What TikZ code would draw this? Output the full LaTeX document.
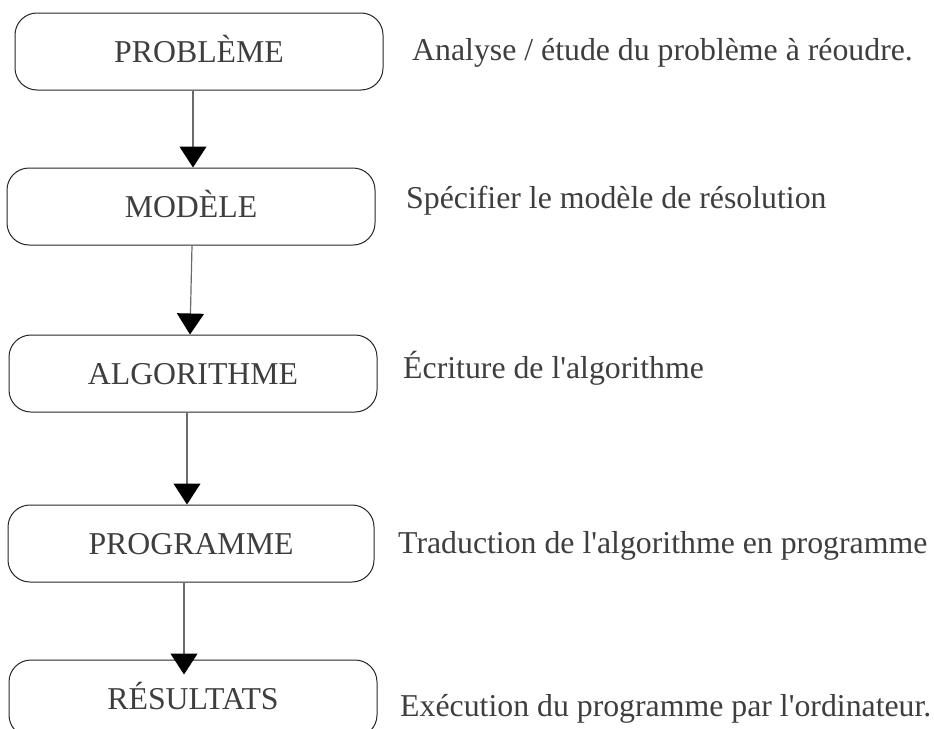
\documentclass[tikz,border=0pt]{standalone}
\usepackage{fontspec}
\setmainfont{Liberation Serif}
\usetikzlibrary{arrows.meta}

\definecolor{textgrey}{HTML}{3E3E3E}
\definecolor{linegrey}{HTML}{6A6A6A}

\begin{document}
\begin{tikzpicture}
    [x=1pt, y=1pt,
    font=\fontsize{31.8}{38}\selectfont,
    stage/.style={
        draw=black!85,
        line width=1pt,
        rounded corners=22pt,
        text=textgrey,
        minimum width=368pt,
        minimum height=77pt,
        text height=21pt,
        text depth=0pt,
        inner sep=0pt
    },
    note/.style={anchor=base west, text=textgrey, inner sep=0pt},
    line/.style={
        draw=linegrey, line width=1.2pt,
        -{Triangle[width=27pt, length=21pt, color=black]}
    }
    ]
    \useasboundingbox (0,0) rectangle (934,-728);

    % Etapes
    \foreach \name/\x/\y/\w/\pos in {PROBL\`EME/199/-51.5/368/1, MOD\`ELE/191/-206.5/368/2,
        ALGORITHME/193/-373.5/368/3, PROGRAMME/191/-543.5/366/4, R\'ESULTATS/193/-698.5/368/5}{
        \node[stage, minimum width=\w pt] (stage\pos) at (\x,\y) {\name};
    }

    % Commentaires
    \node[note] (note1) at (412,-60) {Analyse / étude du problème à réoudre.};
    \node[note] (note2) at (406,-208) {Spécifier le modèle de résolution};
    \node[note] (note3) at (403,-378) {Écriture de l\textquotesingle algorithme};
    \node[note] (note4) at (398,-553) {Traduction de l\textquotesingle algorithme en programme};
    \node[note] (note5) at (400,-716) {Exécution du programme par l\textquotesingle ordinateur.};

    % Fleches entre etapes
    \foreach \a/\b/\sa/\sb/\dy in {1/2/-6/2/0, 2/3/1/-3/0, 3/4/-6/-4/0, 4/5/-7/-9/-15}{
        \path [line] ([xshift=\sa pt]stage\a.south) -- ([xshift=\sb pt, yshift=\dy pt]stage\b.north);
    }
\end{tikzpicture}
\end{document}
